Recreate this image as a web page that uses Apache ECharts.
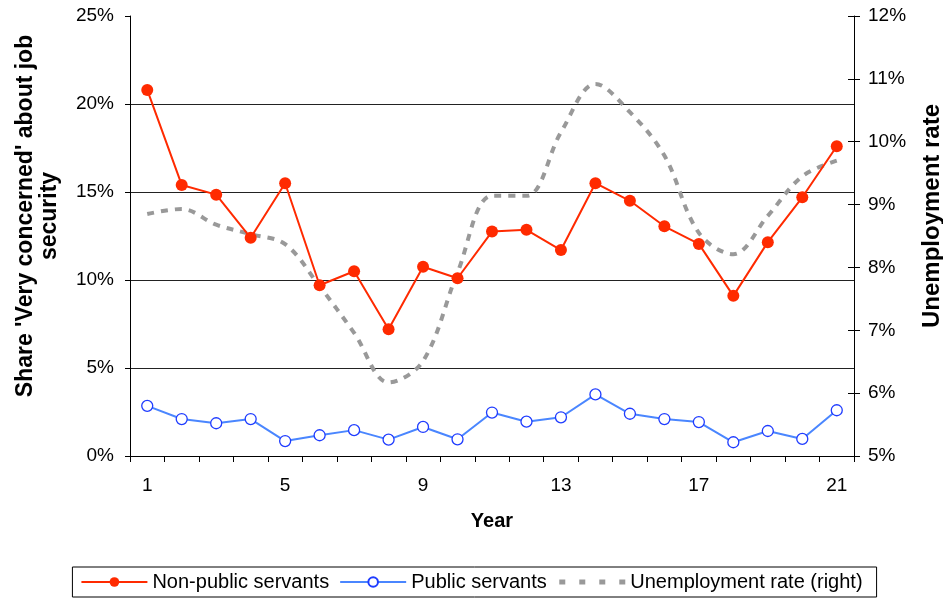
<!DOCTYPE html>
<html>
<head>
<meta charset="utf-8">
<script src="https://cdn.jsdelivr.net/npm/echarts@6/dist/echarts.min.js"></script>
<style>
html,body{margin:0;padding:0;background:#fff;}
#chart{width:943px;height:599px;}
</style>
</head>
<body>
<div id="chart"></div>
<script>
const years = ['1','2','3','4','5','6','7','8','9','10','11','12','13','14','15','16','17','18','19','20','21'];
const nonPublic = [20.8, 15.4, 14.85, 12.4, 15.5, 9.7, 10.5, 7.2, 10.75, 10.1, 12.75, 12.85, 11.7, 15.5, 14.5, 13.05, 12.05, 9.1, 12.15, 14.7, 17.6];
const publicServ = [2.85, 2.1, 1.86, 2.1, 0.85, 1.18, 1.47, 0.93, 1.65, 0.95, 2.47, 1.95, 2.2, 3.5, 2.4, 2.1, 1.93, 0.78, 1.42, 0.97, 2.6];
const unemployment = [8.85, 8.93, 8.68, 8.53, 8.37, 7.70, 6.96, 6.17, 6.51, 7.92, 9.14, 9.14, 10.15, 10.92, 10.47, 9.78, 8.55, 8.21, 8.82, 9.45, 9.7];

const FONT = '"Liberation Sans", Arial, sans-serif';
const chart = echarts.init(document.getElementById('chart'), null, {renderer: 'canvas'});
chart.setOption({
  animation: false,
  textStyle: {fontFamily: FONT, color: '#000'},
  grid: {left: 130, right: 89, top: 16, bottom: 143, containLabel: false, outerBoundsMode: 'none'},
  legend: {
    data: [
      {name: 'Non-public servants'},
      {name: 'Public servants'},
      {name: 'Unemployment rate (right)', itemStyle: {opacity: 0}, lineStyle: {type: [6, 14], width: 5, color: '#999999'}}
    ],
    left: 'center',
    bottom: 2,
    borderColor: '#000',
    borderWidth: 1,
    borderRadius: 0,
    padding: [5, 14, 5, 8],
    itemGap: 10,
    itemWidth: 66,
    itemHeight: 12,
    textStyle: {fontFamily: FONT, fontSize: 20, color: '#000', padding: [0, 0, 0, 0]}
  },
  xAxis: {
    type: 'category',
    data: years,
    boundaryGap: true,
    name: 'Year',
    nameLocation: 'middle',
    nameGap: 55,
    nameTextStyle: {fontFamily: FONT, fontSize: 20, fontWeight: 'bold', color: '#000'},
    axisLine: {lineStyle: {color: '#000', width: 1}},
    axisTick: {show: true, interval: 0, length: 6, lineStyle: {color: '#000'}},
    axisLabel: {interval: 3, fontSize: 19, color: '#000', margin: 20, fontFamily: FONT},
    splitLine: {show: false}
  },
  yAxis: [
    {
      type: 'value',
      min: 0, max: 25, interval: 5,
      position: 'left',
      name: "Share 'Very concerned' about job\nsecurity",
      nameLocation: 'middle',
      nameRotate: 90,
      nameGap: 68,
      nameTextStyle: {fontFamily: FONT, fontSize: 23, fontWeight: 'bold', color: '#000', lineHeight: 24, padding: [0, 0, 0, 40]},
      axisLine: {show: true, lineStyle: {color: '#000', width: 1}},
      axisTick: {show: true, length: 5, lineStyle: {color: '#000'}},
      axisLabel: {formatter: '{value}%', fontSize: 19, color: '#000', margin: 16, fontFamily: FONT},
      splitLine: {show: true, showMaxLine: false, lineStyle: {color: '#222', width: 1}}
    },
    {
      type: 'value',
      min: 5, max: 12, interval: 1,
      position: 'right',
      name: 'Unemployment rate',
      nameLocation: 'middle',
      nameRotate: 90,
      nameGap: 66,
      nameTextStyle: {fontFamily: FONT, fontSize: 24, fontWeight: 'bold', color: '#000', padding: [0, 0, 0, 40]},
      axisLine: {show: true, lineStyle: {color: '#000', width: 1}},
      axisTick: {show: true, length: 6, lineStyle: {color: '#000'}},
      axisLabel: {formatter: '{value}%', fontSize: 19, color: '#000', margin: 14, fontFamily: FONT},
      splitLine: {show: false}
    },
    {
      type: 'value',
      min: 5, max: 12, interval: 1,
      position: 'right',
      axisLine: {show: false},
      axisTick: {show: true, inside: true, length: 6, lineStyle: {color: '#000'}},
      axisLabel: {show: false},
      splitLine: {show: false}
    }
  ],
  series: [
    {
      name: 'Unemployment rate (right)',
      type: 'line',
      yAxisIndex: 1,
      data: unemployment,
      smooth: 0.35,
      symbol: 'none',
      z: 1,
      lineStyle: {color: '#999999', width: 4, type: [7, 7]},
      itemStyle: {color: '#999999'}
    },
    {
      name: 'Non-public servants',
      type: 'line',
      yAxisIndex: 0,
      data: nonPublic,
      symbol: 'circle',
      symbolSize: 12,
      z: 3,
      lineStyle: {color: '#ff2a00', width: 2},
      itemStyle: {color: '#ff2a00', borderColor: '#ff2a00', borderWidth: 0}
    },
    {
      name: 'Public servants',
      type: 'line',
      yAxisIndex: 0,
      data: publicServ,
      symbol: 'circle',
      symbolSize: 11,
      z: 2,
      lineStyle: {color: '#4a86ff', width: 2},
      itemStyle: {color: '#ffffff', borderColor: '#1f3cff', borderWidth: 1.3}
    }
  ]
});
</script>
</body>
</html>
